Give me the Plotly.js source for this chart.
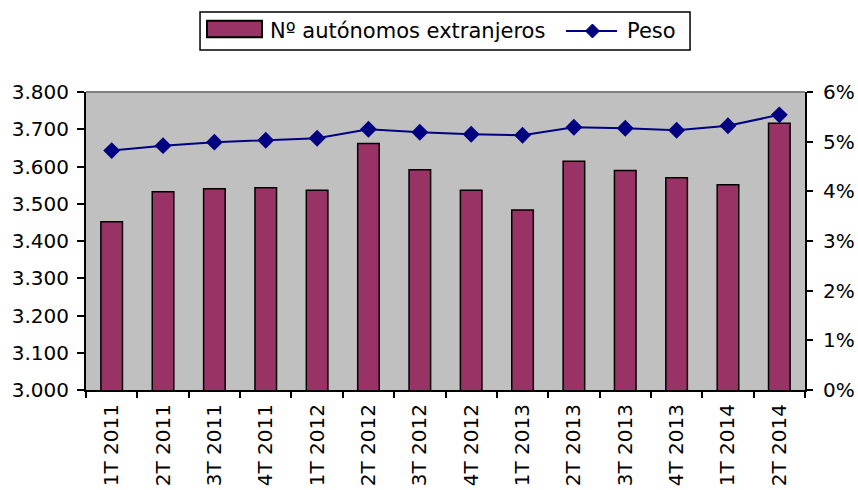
<!DOCTYPE html>
<html>
<head>
<meta charset="utf-8">
<script src="https://cdn.plot.ly/plotly-3.0.1.min.js"></script>
<style>html,body{margin:0;padding:0;background:#fff;}#chart{width:858px;height:490px;}</style>
</head>
<body>
<div id="chart"></div>
<script>
var categories = ["1T 2011","2T 2011","3T 2011","4T 2011","1T 2012","2T 2012","3T 2012","4T 2012","1T 2013","2T 2013","3T 2013","4T 2013","1T 2014","2T 2014"];
var autonomos = [3452, 3532, 3540, 3543, 3536, 3662, 3591, 3536, 3483, 3614, 3589, 3570, 3551, 3716];
var peso = [0.0482, 0.0492, 0.0499, 0.0503, 0.0507, 0.0525, 0.0519, 0.0515, 0.0513, 0.0529, 0.0527, 0.0523, 0.0532, 0.0554];
var seriesNames = ["Nº autónomos extranjeros", "Peso"];

var fam = "DejaVu Sans, Verdana, sans-serif";
var font = {family: fam, size: 20, color: "#000"};
var barColor = "#993366", lineColor = "#000080";

var traces = [
  {
    type: "bar", name: seriesNames[0], x: categories, y: autonomos,
    marker: {color: barColor, line: {color: "#000", width: 1.5}},
    width: 0.42, yaxis: "y"
  },
  {
    type: "scatter", mode: "lines+markers", name: seriesNames[1], x: categories, y: peso,
    line: {color: lineColor, width: 2},
    marker: {symbol: "diamond", size: 13, color: lineColor},
    yaxis: "y2"
  }
];

// legend geometry (paper coords of the plot area)
var L = {x0: 0.1586, x1: 0.8401, y0: 1.1409, y1: 1.2685, yc: 1.2047};
var dx = 0.0097, dy = 0.0235, dc = 0.7044;

var layout = {
  width: 858, height: 490,
  margin: {l: 86, r: 53, t: 92, b: 100},
  paper_bgcolor: "#fff", plot_bgcolor: "#C0C0C0",
  font: font,
  separators: ",.",
  showlegend: false,
  xaxis: {type: "category", range: [-0.5, 13.5], tickangle: -90, ticks: "outside", tickson: "boundaries",
          ticklen: 6, tickwidth: 2, tickcolor: "#000", showline: true, linecolor: "#000",
          linewidth: 2, showgrid: false, tickfont: font, ticklabelstandoff: 4},
  xaxis2: {type: "category", range: [-0.5, 13.5], overlaying: "x", matches: "x", ticks: "inside",
           tickson: "boundaries", ticklen: 5, tickwidth: 2, tickcolor: "#000",
           showticklabels: false, showgrid: false, showline: false, side: "bottom"},
  yaxis: {range: [3000, 3800], dtick: 100, tickformat: ",d", ticks: "outside",
          ticklen: 7, tickwidth: 2, tickcolor: "#000", showline: true, linecolor: "#000",
          linewidth: 2, showgrid: false, zeroline: false, tickfont: font, ticklabelstandoff: 4},
  yaxis2: {range: [0, 0.06], dtick: 0.01, tickformat: ".0%", overlaying: "y", side: "right",
           ticks: "outside", ticklen: 6, tickwidth: 2, tickcolor: "#000", showline: true,
           linecolor: "#000", linewidth: 2, showgrid: false, zeroline: false, tickfont: font,
           ticklabelstandoff: 6},
  yaxis3: {range: [0, 0.06], dtick: 0.01, overlaying: "y", side: "right", ticks: "inside",
           ticklen: 6, tickwidth: 2, tickcolor: "#000", showticklabels: false, showline: false,
           showgrid: false, zeroline: false},
  shapes: [
    {type: "line", xref: "paper", yref: "paper", x0: 0, x1: 1, y0: 1, y1: 1,
     line: {color: "#808080", width: 2}},
    {type: "rect", xref: "paper", yref: "paper", x0: L.x0, x1: L.x1, y0: L.y0, y1: L.y1,
     line: {color: "#000", width: 1.5}, fillcolor: "#fff"},
    {type: "rect", xref: "paper", yref: "paper", x0: 0.1683, x1: 0.2448, y0: 1.1836, y1: 1.2393,
     line: {color: "#000", width: 2}, fillcolor: barColor},
    {type: "line", xref: "paper", yref: "paper", x0: 0.6676, x1: 0.7385, y0: L.yc, y1: L.yc,
     line: {color: lineColor, width: 2}},
    {type: "path", xref: "paper", yref: "paper",
     path: "M " + (dc - dx) + "," + L.yc + " L " + dc + "," + (L.yc + dy) + " L " + (dc + dx) + "," + L.yc +
           " L " + dc + "," + (L.yc - dy) + " Z",
     line: {color: lineColor, width: 1}, fillcolor: lineColor}
  ],
  annotations: [
    {xref: "paper", yref: "paper", x: 0.2531, y: L.yc, xanchor: "left", yanchor: "middle",
     text: seriesNames[0], showarrow: false, font: {family: fam, size: 21, color: "#000"}},
    {xref: "paper", yref: "paper", x: 0.7497, y: L.yc, xanchor: "left", yanchor: "middle",
     text: seriesNames[1], showarrow: false, font: {family: fam, size: 21, color: "#000"}}
  ]
};

Plotly.newPlot("chart", traces, layout, {displayModeBar: false, staticPlot: true});
</script>
</body>
</html>
